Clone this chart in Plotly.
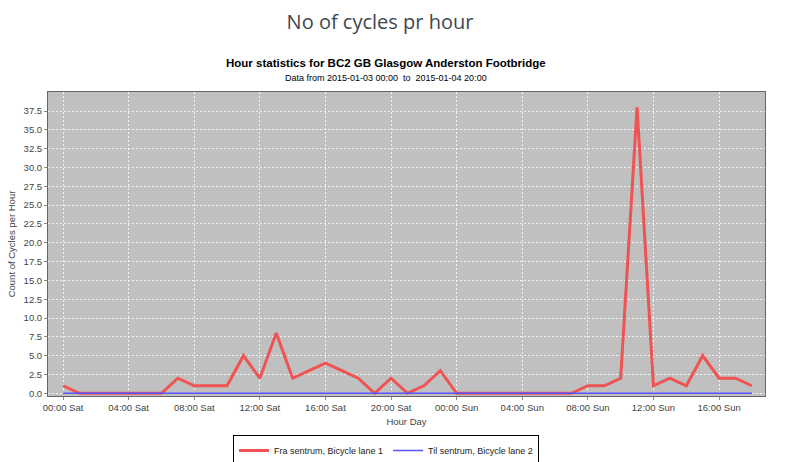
import plotly.graph_objects as go
import pandas as pd

# ---- data ----
start = "2015-01-03 00:00"
hours = pd.date_range(start, periods=43, freq="h")
fra_sentrum = [1, 0, 0, 0, 0, 0, 0, 2, 1, 1, 1, 5, 2, 8, 2, 3, 4, 3, 2, 0, 2, 0, 1, 3,
               0, 0, 0, 0, 0, 0, 0, 0, 1, 1, 2, 38, 1, 2, 1, 5, 2, 2, 1]
til_sentrum = [0] * 43
series_names = ["Fra sentrum, Bicycle lane 1", "Til sentrum, Bicycle lane 2"]
tick_times = pd.date_range(start, periods=11, freq="4h")
tick_labels = ["00:00 Sat", "04:00 Sat", "08:00 Sat", "12:00 Sat", "16:00 Sat", "20:00 Sat",
               "00:00 Sun", "04:00 Sun", "08:00 Sun", "12:00 Sun", "16:00 Sun"]
y_ticks = [i * 2.5 for i in range(16)]

fig = go.Figure()
fig.add_trace(go.Scatter(x=hours, y=fra_sentrum, mode="lines", name=series_names[0],
                         line=dict(color="#ef5353", width=3)))
fig.add_trace(go.Scatter(x=hours, y=til_sentrum, mode="lines", name=series_names[1],
                         line=dict(color="#5555ff", width=1.5)))

font_main = "Liberation Sans, Arial, sans-serif"
fig.update_layout(
    width=802, height=462,
    margin=dict(l=48, r=37, t=92, b=66, autoexpand=False),
    paper_bgcolor="white",
    plot_bgcolor="#c0c0c0",
    showlegend=True,
    legend=dict(orientation="h",
                x=0.4714, xanchor="center", y=-(435 - 396) / 304, yanchor="top",
                bordercolor="black", borderwidth=1, bgcolor="white",
                font=dict(family=font_main, size=9, color="#222"),
                itemwidth=30, tracegroupgap=0),
    title=dict(text="No of cycles pr hour", x=380 / 802, xanchor="center",
               y=1 - 22 / 462, yanchor="middle",
               font=dict(family="Open Sans, sans-serif", size=20, color="#3e4750")),
    annotations=[
        dict(text="<b>Hour statistics for BC2 GB Glasgow Anderston Footbridge</b>",
             xref="paper", yref="paper", x=0.4714, y=1 + (92 - 63) / 304,
             xanchor="center", yanchor="middle", showarrow=False,
             font=dict(family="Liberation Sans, Arial", size=11.5, color="black")),
        dict(text="Data from 2015-01-03 00:00  to  2015-01-04 20:00",
             xref="paper", yref="paper", x=0.4714, y=1 + (92 - 78) / 304,
             xanchor="center", yanchor="middle", showarrow=False,
             font=dict(family="Liberation Sans, Arial", size=9, color="black")),
    ],
)

grid = dict(showgrid=True, gridcolor="#f4f4f4", gridwidth=1, griddash="2px,2px")
fig.update_xaxes(
    range=["2015-01-02 23:05", "2015-01-04 18:48"],
    tickvals=tick_times, ticktext=tick_labels,
    tickfont=dict(family=font_main, size=9.5, color="#444"),
    ticks="outside", ticklen=3, tickcolor="#888",
    showline=True, linecolor="#666", linewidth=1, mirror=True,
    zeroline=False, automargin=False,
    title=dict(text="Hour Day", font=dict(family=font_main, size=9.5, color="#444"), standoff=5),
    **grid,
)
fig.update_yaxes(
    range=[-0.36, 40.03],
    tickvals=y_ticks, tickformat=".1f",
    tickfont=dict(family=font_main, size=9.5, color="#444"),
    ticks="outside", ticklen=3, tickcolor="#888",
    showline=True, linecolor="#666", linewidth=1, mirror=True,
    zeroline=False, automargin=False,
    title=dict(text="Count of Cycles per Hour", font=dict(family=font_main, size=9.5, color="#444"), standoff=6),
    **grid,
)

fig.write_html("out.html")
